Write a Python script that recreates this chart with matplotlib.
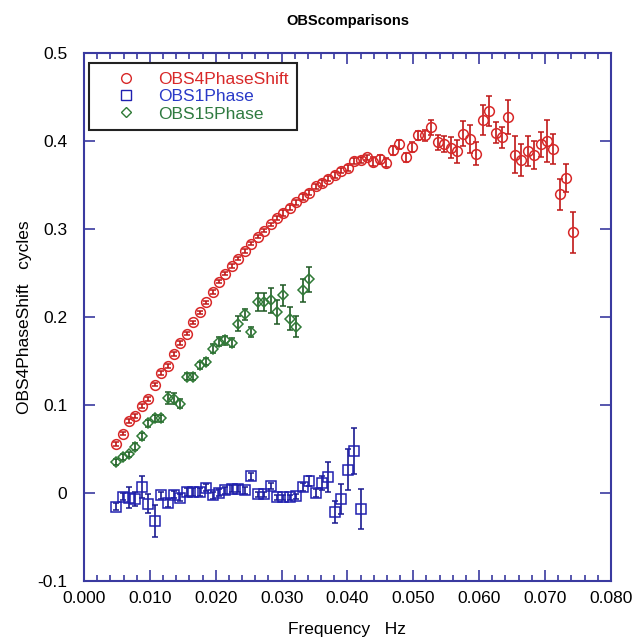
import numpy as np
import matplotlib
matplotlib.use("Agg")
import matplotlib.pyplot as plt
from matplotlib.lines import Line2D
from matplotlib.ticker import MultipleLocator, FuncFormatter

plt.rcParams['font.family'] = ['Liberation Sans', 'DejaVu Sans']
plt.rcParams['axes.unicode_minus'] = False

# frequency bins are 1/1024 Hz apart
df = 1.0 / 1024

obs4_phase = [0.0553, 0.0675, 0.0815, 0.0875, 0.0985, 0.1065, 0.123, 0.1364, 0.1443, 0.158,
              0.170, 0.181, 0.1936, 0.205, 0.2164, 0.2284, 0.240, 0.249, 0.258, 0.266,
              0.275, 0.283, 0.291, 0.298, 0.305, 0.312, 0.318, 0.324, 0.330, 0.336,
              0.341, 0.348, 0.352, 0.357, 0.361, 0.366, 0.369, 0.377, 0.378, 0.381,
              0.376, 0.379, 0.375, 0.389, 0.396, 0.381, 0.393, 0.406, 0.406, 0.415,
              0.398, 0.396, 0.392, 0.388, 0.408, 0.402, 0.385, 0.423, 0.434, 0.409,
              0.404, 0.427, 0.384, 0.378, 0.388, 0.384, 0.396, 0.400, 0.391, 0.339,
              0.358, 0.296]
obs4_err = [0.002] * 26 + [0.003] * 14 + [0.005] * 6 + \
           [0.006, 0.005, 0.006, 0.008, 0.008, 0.009, 0.012, 0.013, 0.014, 0.016,
            0.013, 0.017, 0.017, 0.012, 0.012, 0.019, 0.021, 0.018, 0.017, 0.016,
            0.014, 0.024, 0.017, 0.018, 0.016, 0.023]

obs1_phase = [-0.0159, -0.0045, -0.0052, -0.0064, 0.0068, -0.012, -0.0318, -0.0026, -0.0114, -0.0018,
              -0.0052, 0.0011, 0.0011, 0.0011, 0.0061, -0.0026, 0.0005, 0.003, 0.005, 0.005,
              0.003, 0.019, -0.0015, -0.0015, 0.0080, -0.005, -0.005, -0.005, -0.004, 0.0068,
              0.0136, 0.0, 0.0114, 0.018, -0.0216, -0.0072, 0.0266, 0.0477, -0.0185]
obs1_err = [0.004, 0.004, 0.012, 0.008, 0.013, 0.011, 0.018] + [0.004] * 15 + [0.003] * 7 + \
           [0.005, 0.006, 0.005, 0.008, 0.017, 0.013, 0.017, 0.023, 0.026, 0.023]

obs15_phase = [0.0353, 0.0409, 0.044, 0.0524, 0.0645, 0.0789, 0.0846, 0.0846, 0.1082, 0.107,
               0.1014, 0.1318, 0.1318, 0.145, 0.1488, 0.164, 0.1716, 0.1735, 0.1704, 0.1924,
               0.2029, 0.1828, 0.2169, 0.2169, 0.2188, 0.2055, 0.2245, 0.1981, 0.1886, 0.2304,
               0.2426]
obs15_err = [0.003, 0.003, 0.003, 0.004, 0.004, 0.004, 0.004, 0.004, 0.007, 0.006,
             0.005, 0.004, 0.004, 0.004, 0.004, 0.005, 0.005, 0.005, 0.005, 0.009,
             0.006, 0.006, 0.010, 0.010, 0.014, 0.014, 0.012, 0.013, 0.012, 0.013,
             0.014]

f_obs4 = np.arange(5, 5 + len(obs4_phase)) * df
f_obs1 = np.arange(5, 5 + len(obs1_phase)) * df
f_obs15 = np.arange(5, 5 + len(obs15_phase)) * df

spine_col = "#3a3aa0"
red, red_bar = "#d82828", "#c01818"
blue, blue_bar = "#2020b0", "#1a1a90"
green, green_bar = "#2f7a36", "#1f5a24"

fig = plt.figure(figsize=(6.34, 6.42), dpi=100)
ax = fig.add_axes([0.1325, 0.095, 0.831, 0.823])

common = dict(linestyle='none', markerfacecolor='none',
              markeredgewidth=1.1, elinewidth=1.2, capsize=2.5, capthick=1.2)
ax.errorbar(f_obs4, obs4_phase, yerr=obs4_err, marker='o', markersize=7,
            color=red, ecolor=red_bar, **common)
ax.errorbar(f_obs1, obs1_phase, yerr=obs1_err, marker='s', markersize=6.5,
            color=blue, ecolor=blue_bar, **common)
ax.errorbar(f_obs15, obs15_phase, yerr=obs15_err, marker='D', markersize=5.5,
            color=green, ecolor=green_bar, **common)

ax.set_xlim(0, 0.08)
ax.set_ylim(-0.1, 0.5)
ax.xaxis.set_major_locator(MultipleLocator(0.01))
ax.xaxis.set_minor_locator(MultipleLocator(0.002))
ax.yaxis.set_major_locator(MultipleLocator(0.1))
ax.xaxis.set_major_formatter(FuncFormatter(lambda v, p: "%.3f" % v))
ax.yaxis.set_major_formatter(FuncFormatter(lambda v, p: "%g" % round(v, 2)))

for s in ax.spines.values():
    s.set_color(spine_col)
    s.set_linewidth(1.5)
ax.tick_params(which='both', direction='in', top=True, right=True, color=spine_col,
               labelsize=12.5, width=1.2)
ax.tick_params(which='major', length=8)
ax.tick_params(which='minor', length=4.5)
ax.tick_params(axis='x', pad=7)
ax.tick_params(axis='y', pad=12)

ax.set_title("OBScomparisons", fontsize=10.5, fontweight='bold', pad=20)
ax.set_xlabel("Frequency   Hz", fontsize=12.5, labelpad=12)
ax.set_ylabel("OBS4PhaseShift   cycles", fontsize=12.5, labelpad=4)

handles = [
    Line2D([], [], marker='o', linestyle='none', color=red, markerfacecolor='none', markersize=7),
    Line2D([], [], marker='s', linestyle='none', color=blue, markerfacecolor='none', markersize=6.5),
    Line2D([], [], marker='D', linestyle='none', color=green, markerfacecolor='none', markersize=5.5),
]
labels = ["OBS4PhaseShift", "OBS1Phase", "OBS15Phase"]
leg = ax.legend(handles, labels, loc='upper left', bbox_to_anchor=(0.010, 0.980),
                borderaxespad=0, fontsize=12.5, fancybox=False, framealpha=1,
                edgecolor='#222222', handlelength=3.2, handletextpad=0.25,
                borderpad=0.5, labelspacing=0.12,
                labelcolor=[red, "#2a3ac8", "#2f7a40"])
leg.get_frame().set_linewidth(1.5)

fig.savefig("out.png", dpi=100)
